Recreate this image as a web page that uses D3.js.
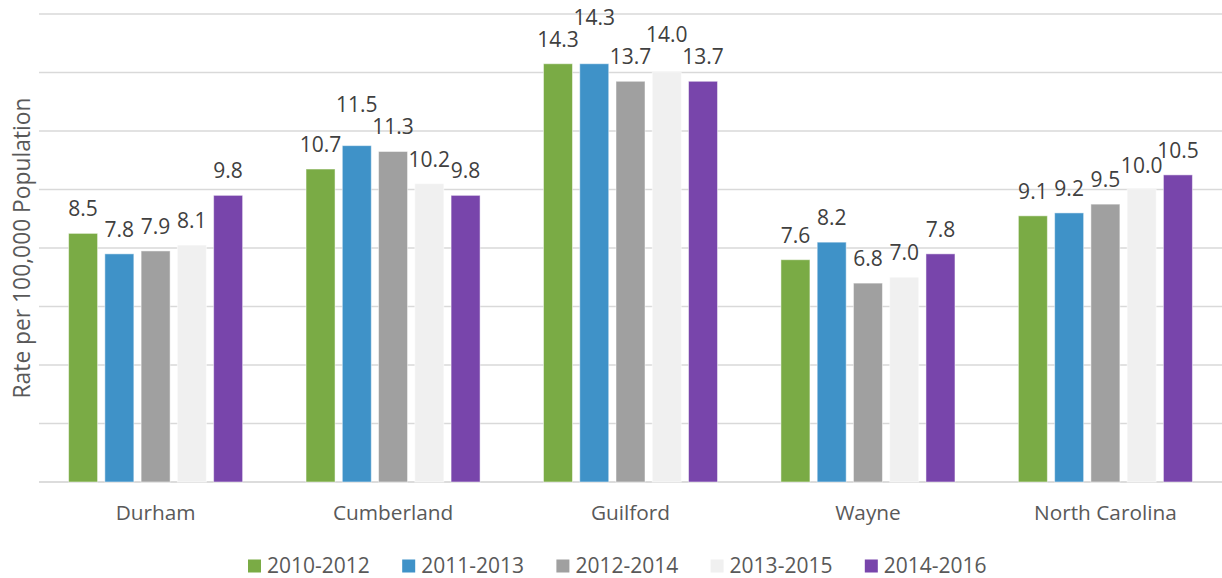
<!DOCTYPE html>
<html>
<head>
<meta charset="utf-8">
<script src="https://cdn.jsdelivr.net/npm/d3@7"></script>
<style>
  html, body { margin: 0; padding: 0; background: #fff; }
  svg { display: block; font-family: "Open Sans", sans-serif; }
</style>
</head>
<body>
<svg id="chart" width="1222" height="578"></svg>
<script>
const categories = ["Durham", "Cumberland", "Guilford", "Wayne", "North Carolina"];
const seriesNames = ["2010-2012", "2011-2013", "2012-2014", "2013-2015", "2014-2016"];
const s2010_2012 = [8.5, 10.7, 14.3, 7.6, 9.1];
const s2011_2013 = [7.8, 11.5, 14.3, 8.2, 9.2];
const s2012_2014 = [7.9, 11.3, 13.7, 6.8, 9.5];
const s2013_2015 = [8.1, 10.2, 14.0, 7.0, 10.0];
const s2014_2016 = [9.8, 9.8, 13.7, 7.8, 10.5];
const seriesValues = [s2010_2012, s2011_2013, s2012_2014, s2013_2015, s2014_2016];
const colors = ["#7AAB45", "#3F92C8", "#A0A0A0", "#F0F0F0", "#7845AB"];
const yTicks = [0, 2, 4, 6, 8, 10, 12, 14, 16];
const yTitle = "Rate per 100,000 Population";

const svg = d3.select("#chart");
const plotLeft = 37, plotRight = 1224, plotTop = 14, plotBottom = 482;

const x0 = d3.scaleBand().domain(categories).range([plotLeft, plotRight])
  .paddingInner(0.267).paddingOuter(0.133);
const x1 = d3.scaleBand().domain(seriesNames).range([0, x0.bandwidth()])
  .paddingInner(0.2).paddingOuter(0);
const y = d3.scaleLinear().domain([0, 16]).range([plotBottom, plotTop]);

// gridlines
svg.append("g").selectAll("line").data(yTicks).join("line")
  .attr("x1", plotLeft + 2).attr("x2", 1222)
  .attr("y1", d => y(d)).attr("y2", d => y(d))
  .attr("stroke", d => d === 0 ? "#d0d0d0" : "#d9d9d9")
  .attr("stroke-width", 1.5);

// bars
const rows = categories.map((c, ci) => seriesNames.map((s, si) => ({
  cat: c, series: s, si, value: seriesValues[si][ci]
})));

const gGroups = svg.append("g").selectAll("g").data(rows).join("g")
  .attr("transform", d => `translate(${x0(d[0].cat)},0)`);

gGroups.selectAll("rect").data(d => d).join("rect")
  .attr("x", d => x1(d.series))
  .attr("width", x1.bandwidth())
  .attr("y", d => y(d.value))
  .attr("height", d => y(0) - y(d.value))
  .attr("fill", d => colors[d.si])
  .attr("stroke", "#ffffff").attr("stroke-opacity", 0.5).attr("stroke-width", 1);

// data labels with simple collision avoidance (higher bar's label moves up)
const labelOffset = 17;
const labelStep = 22;
const overlapV = 11;
gGroups.each(function(group) {
  const g = d3.select(this);
  const labels = group.map(d => {
    const cx = x1(d.series) + x1.bandwidth() / 2;
    const t = g.append("text")
      .attr("x", cx)
      .attr("text-anchor", "middle")
      .attr("font-size", 21)
      .attr("fill", "#404040")
      .text(d3.format(".1f")(d.value));
    return {t, cx, w: t.node().getComputedTextLength(), base: y(d.value) - labelOffset, value: d.value, si: d.si};
  });
  for (let iter = 0; iter < 20; iter++) {
    let changed = false;
    for (let i = 0; i < labels.length; i++) {
      for (let j = i + 1; j < labels.length; j++) {
        const a = labels[i], b = labels[j];
        const hOverlap = Math.abs(a.cx - b.cx) < (a.w + b.w) / 2;
        const vOverlap = Math.abs(a.base - b.base) < overlapV;
        if (hOverlap && vOverlap) {
          const mover = b.value >= a.value ? b : a;
          const other = mover === b ? a : b;
          mover.base = other.base - labelStep;
          changed = true;
        }
      }
    }
    if (!changed) break;
  }
  labels.forEach(l => l.t.attr("y", l.base));
});

// category labels
svg.append("g").selectAll("text").data(categories).join("text")
  .attr("x", d => x0(d) + x0.bandwidth() / 2)
  .attr("y", 520)
  .attr("text-anchor", "middle")
  .attr("font-size", 20.8)
  .attr("fill", "#595959")
  .text(d => d);

// y title
svg.append("text")
  .attr("transform", `translate(30,248) rotate(-90)`)
  .attr("text-anchor", "middle")
  .attr("font-size", 22.8)
  .attr("fill", "#595959")
  .text(yTitle);

// legend
const legendX = d3.scaleBand().domain(seriesNames).range([248, 1019]);
const lg = svg.append("g").selectAll("g").data(seriesNames).join("g")
  .attr("transform", d => `translate(${legendX(d)},0)`);
lg.append("rect").attr("x", 0).attr("y", 559.5).attr("width", 13).attr("height", 13)
  .attr("fill", (d, i) => colors[i]);
lg.append("text").attr("x", 19).attr("y", 573)
  .attr("font-size", 21).attr("fill", "#595959").text(d => d);
</script>
</body>
</html>
